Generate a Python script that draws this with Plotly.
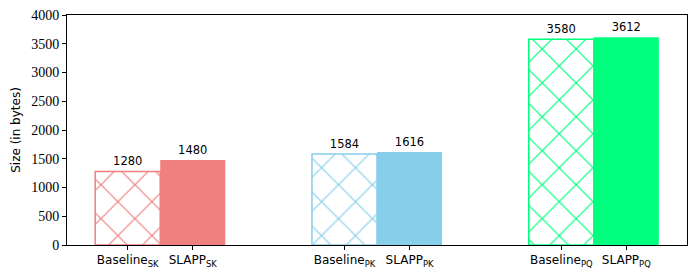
import plotly.graph_objects as go

groups = ["SK", "PK", "PQ"]
baseline_values = [1280, 1584, 3580]
slapp_values = [1480, 1616, 3612]
colors = ["#F08080", "#87CEEB", "#00FF7F"]
y_ticks = [0, 500, 1000, 1500, 2000, 2500, 3000, 3500, 4000]

bar_w = 0.3
fig = go.Figure()

tickvals = []
ticktext = []
for i, g in enumerate(groups):
    xb = i - bar_w / 2
    xs = i + bar_w / 2
    tickvals += [xb, xs]
    ticktext += [f"Baseline<sub>{g}</sub>", f"SLAPP<sub>{g}</sub>"]
    fig.add_trace(go.Bar(
        x=[xb], y=[baseline_values[i]], width=bar_w,
        marker=dict(color="white", line=dict(color=colors[i], width=1.5),
                    pattern=dict(shape="x", fgcolor=colors[i], bgcolor="white",
                                 size=24, solidity=0.1, fgopacity=1)),
        text=[str(baseline_values[i])], textposition="outside",
        textfont=dict(family="DejaVu Sans", size=11.5, color="black"),
        cliponaxis=False, showlegend=False, hoverinfo="skip"))
    fig.add_trace(go.Bar(
        x=[xs], y=[slapp_values[i]], width=bar_w,
        marker=dict(color=colors[i], line=dict(color=colors[i], width=0)),
        text=[str(slapp_values[i])], textposition="outside",
        textfont=dict(family="DejaVu Sans", size=11.5, color="black"),
        cliponaxis=False, showlegend=False, hoverinfo="skip"))

fig.update_layout(
    width=696, height=278,
    margin=dict(l=67, r=9, t=15, b=33),
    plot_bgcolor="white", paper_bgcolor="white",
    barmode="overlay",
    xaxis=dict(range=[-0.43, 2.43], tickvals=tickvals, ticktext=ticktext,
               showgrid=False, zeroline=False, showline=True, linecolor="black",
               linewidth=1, mirror=True, ticks="outside", ticklen=4, tickcolor="black",
               tickfont=dict(family="DejaVu Sans", size=12, color="black")),
    yaxis=dict(range=[0, 4000], tickvals=y_ticks,
               showgrid=False, zeroline=False, showline=True, linecolor="black",
               linewidth=1, mirror=True, ticks="outside", ticklen=4, tickcolor="black",
               tickfont=dict(family="Liberation Serif", size=14, color="black"),
               title=dict(text="Size (in bytes)", font=dict(family="DejaVu Sans", size=12, color="black"),
                          standoff=8)),
)

fig.write_html("out.html", config={"displayModeBar": False},
               post_script="document.body.style.margin='0';document.body.style.overflow='hidden';")
